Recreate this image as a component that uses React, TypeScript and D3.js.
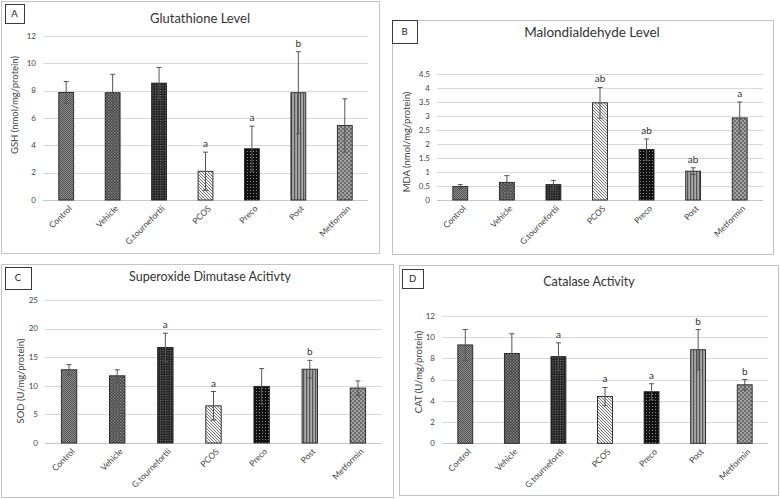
import React from "react";
import * as d3 from "d3";

const categories = ["Control", "Vehicle", "G.tournefortii", "PCOS", "Preco", "Post", "Metformin"];

const gshMean = [7.87, 7.85, 8.55, 2.1, 3.75, 7.85, 5.45];
const gshErr = [0.8, 1.35, 1.15, 1.4, 1.65, 3.0, 1.95];
const gshSig = ["", "", "", "a", "a", "b", ""];
const gshTicks = [0, 2, 4, 6, 8, 10, 12];

const mdaMean = [0.48, 0.63, 0.55, 3.47, 1.8, 1.03, 2.93];
const mdaErr = [0.07, 0.24, 0.15, 0.55, 0.38, 0.12, 0.57];
const mdaSig = ["", "", "", "ab", "ab", "ab", "a"];
const mdaTicks = [0, 0.5, 1, 1.5, 2, 2.5, 3, 3.5, 4, 4.5];

const sodMean = [12.8, 11.75, 16.7, 6.5, 9.9, 12.9, 9.6];
const sodErr = [0.9, 1.05, 2.5, 2.5, 3.1, 1.55, 1.25];
const sodSig = ["", "", "a", "a", "", "b", ""];
const sodTicks = [0, 5, 10, 15, 20, 25];

const catMean = [9.25, 8.45, 8.15, 4.4, 4.85, 8.8, 5.5];
const catErr = [1.45, 1.85, 1.3, 0.85, 0.75, 1.9, 0.5];
const catSig = ["", "", "a", "a", "a", "b", "b"];
const catTicks = [0, 2, 4, 6, 8, 10, 12];

const patternIds = ["pControl", "pVehicle", "pGt", "pPcos", "pPreco", "pPost", "pMet"];

const FONT = "Lato, 'Open Sans', sans-serif";
const TXT = "#444444";

type PanelProps = {
  letter: string;
  title: string;
  titleSize: number;
  yTitle: string;
  box: [number, number, number, number];
  labelBox: [number, number, number, number];
  titlePos: [number, number];
  plot: { x0: number; x1: number; yTop: number; y0: number };
  yMax: number;
  ticks: number[];
  yTitlePos: [number, number];
  means: number[];
  errs: number[];
  sig: string[];
};

function Panel(p: PanelProps) {
  const x = d3
    .scaleBand<string>()
    .domain(categories)
    .range([p.plot.x0, p.plot.x1])
    .paddingInner(0.68)
    .paddingOuter(0.34);
  const y = d3.scaleLinear().domain([0, p.yMax]).range([p.plot.y0, p.plot.yTop]);
  const [bx0, by0, bx1, by1] = p.box;
  const [lx0, ly0, lx1, ly1] = p.labelBox;
  return (
    <g>
      <rect x={bx0 + 0.5} y={by0 + 0.5} width={bx1 - bx0} height={by1 - by0} fill="#fff" stroke="#c4c4c4" strokeWidth={1} />
      <rect x={lx0 + 0.5} y={ly0 + 0.5} width={lx1 - lx0} height={ly1 - ly0} fill="#fff" stroke="#3a3a3a" strokeWidth={1} />
      <text x={(lx0 + lx1) / 2} y={(ly0 + ly1) / 2} dy="0.36em" textAnchor="middle" fontSize={9.5} fill="#222" fontFamily={FONT}>
        {p.letter}
      </text>
      <text x={p.titlePos[0]} y={p.titlePos[1]} textAnchor="middle" fontSize={p.titleSize} fill="#333" fontFamily={FONT}>
        {p.title}
      </text>
      {p.ticks.map((t) => (
        <g key={t}>
          <line x1={p.plot.x0} x2={p.plot.x1} y1={Math.round(y(t)) + 0.5} y2={Math.round(y(t)) + 0.5} stroke={t === 0 ? "#c8c8c8" : "#d9d9d9"} strokeWidth={1} />
          <text x={p.plot.x0 - 7} y={y(t)} dy="0.35em" textAnchor="end" fontSize={8} fill={TXT} fontFamily={FONT}>
            {String(t)}
          </text>
        </g>
      ))}
      <text
        transform={`translate(${p.yTitlePos[0]},${p.yTitlePos[1]}) rotate(-90)`}
        textAnchor="middle"
        dy="0.35em"
        fontSize={9.5}
        fill={TXT}
        fontFamily={FONT}
      >
        {p.yTitle}
      </text>
      {categories.map((c, i) => {
        const bx = x(c) as number;
        const bw = x.bandwidth();
        const cx = bx + bw / 2;
        const top = y(p.means[i]);
        const eHi = y(p.means[i] + p.errs[i]);
        const eLo = y(Math.max(0, p.means[i] - p.errs[i]));
        return (
          <g key={c}>
            <rect x={bx} y={top} width={bw} height={y(0) - top} fill={`url(#${patternIds[i]})`} stroke="#222" strokeWidth={0.9} />
            <line x1={cx} x2={cx} y1={eHi} y2={eLo} stroke="#555" strokeWidth={1} />
            <line x1={cx - 2.5} x2={cx + 2.5} y1={eHi} y2={eHi} stroke="#555" strokeWidth={1} />
            <line x1={cx - 2.5} x2={cx + 2.5} y1={eLo} y2={eLo} stroke="#555" strokeWidth={1} />
            {p.sig[i] ? (
              <text x={cx} y={eHi - 5} textAnchor="middle" fontSize={10} fill="#333" fontFamily={FONT}>
                {p.sig[i]}
              </text>
            ) : null}
            <text
              transform={`translate(${cx + 4},${p.plot.y0 + 7}) rotate(-45)`}
              textAnchor="end"
              dy="0.35em"
              fontSize={8.5}
              fill={TXT}
              fontFamily={FONT}
            >
              {c}
            </text>
          </g>
        );
      })}
    </g>
  );
}

function Patterns() {
  return (
    <defs>
      <pattern id="pControl" width={2} height={2} patternUnits="userSpaceOnUse">
        <rect width={2} height={2} fill="#8a8a8a" />
        <rect width={1} height={1} fill="#555" />
        <rect x={1} y={1} width={1} height={1} fill="#555" />
      </pattern>
      <pattern id="pVehicle" width={3} height={3} patternUnits="userSpaceOnUse">
        <rect width={3} height={3} fill="#3e3e3e" />
        <rect x={0} y={0} width={1.5} height={1.5} fill="#8c8c8c" />
        <rect x={1.5} y={1.5} width={1.5} height={1.5} fill="#777" />
      </pattern>
      <pattern id="pGt" width={2.5} height={2.5} patternUnits="userSpaceOnUse">
        <rect width={2.5} height={2.5} fill="#262626" />
        <rect x={0} y={0} width={1} height={1} fill="#7a7a7a" />
      </pattern>
      <pattern id="pPcos" width={3} height={3} patternUnits="userSpaceOnUse">
        <rect width={3} height={3} fill="#f2f2f2" />
        <path d="M-1,-1 L4,4 M-1,2 L1,4 M2,-1 L4,1" stroke="#6a6a6a" strokeWidth={0.9} />
      </pattern>
      <pattern id="pPreco" width={3} height={3} patternUnits="userSpaceOnUse">
        <rect width={3} height={3} fill="#111" />
        <rect x={1} y={1} width={1} height={1} fill="#8a8a8a" />
      </pattern>
      <pattern id="pPost" width={3} height={3} patternUnits="userSpaceOnUse">
        <rect width={3} height={3} fill="#a8a8a8" />
        <rect x={0} y={0} width={1.2} height={3} fill="#555" />
      </pattern>
      <pattern id="pMet" width={4} height={4} patternUnits="userSpaceOnUse">
        <rect width={4} height={4} fill="#6c6c6c" />
        <circle cx={1} cy={1} r={0.8} fill="#e8e8e8" />
        <circle cx={3} cy={3} r={0.8} fill="#e8e8e8" />
      </pattern>
    </defs>
  );
}

export default function App() {
  return (
    <svg
      width={780}
      height={499}
      viewBox="0 0 780 499"
      style={{ position: "absolute", left: 0, top: 0, background: "#fff" }}
    >
      <Patterns />
      <rect width={780} height={499} fill="#fff" />
      <Panel
        letter="A"
        title="Glutathione Level"
        titleSize={13}
        yTitle="GSH (nmol/mg/protein)"
        box={[1, 1, 379, 253]}
        labelBox={[5, 4, 24, 23]}
        titlePos={[200, 23]}
        plot={{ x0: 43, x1: 368, yTop: 36, y0: 200 }}
        yMax={12}
        ticks={gshTicks}
        yTitlePos={[15, 105]}
        means={gshMean}
        errs={gshErr}
        sig={gshSig}
      />
      <Panel
        letter="B"
        title="Malondialdehyde Level"
        titleSize={13.5}
        yTitle="MDA (nmol/mg/protein)"
        box={[392, 20, 773, 254]}
        labelBox={[392, 20, 417, 43]}
        titlePos={[592, 37]}
        plot={{ x0: 437, x1: 763, yTop: 74, y0: 200 }}
        yMax={4.5}
        ticks={mdaTicks}
        yTitlePos={[407, 142]}
        means={mdaMean}
        errs={mdaErr}
        sig={mdaSig}
      />
      <Panel
        letter="C"
        title="Superoxide Dimutase Acitivty"
        titleSize={12.5}
        yTitle="SOD (U/mg/protein)"
        box={[1, 264, 393, 497]}
        labelBox={[5, 267, 31, 289]}
        titlePos={[210, 281]}
        plot={{ x0: 45, x1: 382, yTop: 300, y0: 443 }}
        yMax={25}
        ticks={sodTicks}
        yTitlePos={[21, 381]}
        means={sodMean}
        errs={sodErr}
        sig={sodSig}
      />
      <Panel
        letter="D"
        title="Catalase Activity"
        titleSize={12.5}
        yTitle="CAT (U/mg/protein)"
        box={[399, 265, 778, 495]}
        labelBox={[402, 269, 423, 288]}
        titlePos={[589, 286]}
        plot={{ x0: 442, x1: 768, yTop: 315.7, y0: 443.3 }}
        yMax={12}
        ticks={catTicks}
        yTitlePos={[419, 372]}
        means={catMean}
        errs={catErr}
        sig={catSig}
      />
    </svg>
  );
}
